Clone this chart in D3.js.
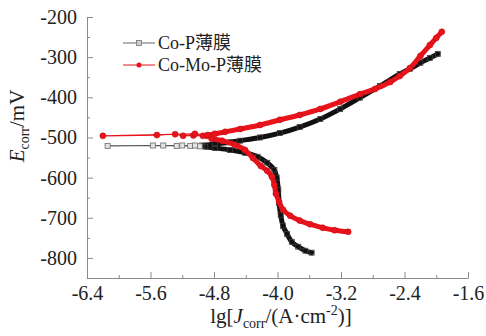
<!DOCTYPE html>
<html>
<head>
<meta charset="utf-8">
<script src="https://cdn.jsdelivr.net/npm/d3@7"></script>
<style>
  body { margin: 0; background: #fff; }
  svg { display: block; }
  .axis path, .axis line { stroke: #8a8a8a; }
</style>
</head>
<body>
<svg id="chart" width="486" height="336"></svg>
<script>
// x tick labels (lg J) and y tick labels (E, mV)
const xTicks = [-6.4, -5.6, -4.8, -4.0, -3.2, -2.4, -1.6];
const xMinor = [-6.0, -5.2, -4.4, -3.6, -2.8, -2.0];
const yTicks = [-200, -300, -400, -500, -600, -700, -800];
const yMinor = [-250, -350, -450, -550, -650, -750, -850];

const seriesNames = ["Co-P薄膜", "Co-Mo-P薄膜"];

// Co-P film: [lgJ, E], scan order cathodic end -> Ecorr -> anodic end
const coPCathodic = [
  [-3.57, -787], [-3.65, -782], [-3.74, -772], [-3.82, -760], [-3.88, -740],
  [-3.93, -720], [-3.96, -693], [-3.98, -663], [-3.99, -630], [-4.01, -600],
  [-4.04, -581], [-4.13, -563], [-4.25, -548], [-4.41, -538], [-4.60, -531],
  [-4.79, -526], [-4.91, -523]
];
const coPEcorr = [
  [-4.98, -522], [-5.10, -521], [-5.27, -521], [-5.44, -520], [-6.14, -521],
  [-5.57, -520], [-5.20, -520], [-5.04, -520]
];
const coPAnodic = [
  [-4.95, -520], [-4.79, -516], [-4.60, -512], [-4.47, -508], [-4.22, -500],
  [-3.97, -489], [-3.72, -474], [-3.46, -454], [-3.21, -429], [-2.96, -401],
  [-2.71, -372], [-2.46, -342], [-2.33, -329], [-2.20, -314], [-2.08, -302],
  [-1.98, -292]
];

// Co-Mo-P film
const coMoPCathodic = [
  [-3.11, -735], [-3.28, -731], [-3.43, -725], [-3.59, -716], [-3.72, -707],
  [-3.84, -695], [-3.93, -680], [-3.98, -660], [-4.02, -640], [-4.04, -618],
  [-4.07, -598], [-4.13, -583], [-4.21, -571], [-4.31, -551], [-4.41, -531],
  [-4.54, -518], [-4.70, -508], [-4.83, -503]
];
const coMoPEcorr = [
  [-4.89, -496], [-4.94, -496], [-5.06, -495], [-5.19, -496], [-5.29, -492],
  [-5.52, -494], [-6.20, -496], [-5.04, -491]
];
const coMoPAnodic = [
  [-4.88, -494], [-4.79, -491], [-4.66, -486], [-4.47, -479], [-4.22, -469],
  [-3.97, -456], [-3.72, -444], [-3.46, -429], [-3.21, -411], [-2.96, -392],
  [-2.77, -379], [-2.58, -362], [-2.46, -347], [-2.33, -327], [-2.20, -297],
  [-2.08, -270], [-2.00, -252], [-1.93, -237]
];

const serif = "'Liberation Serif', 'Times New Roman', serif";
const svg = d3.select("#chart");
const x = d3.scaleLinear().domain([-6.4, -1.6]).range([87, 468]);
const y = d3.scaleLinear().domain([-850, -200]).range([278, 17]);

function styleTicks(g) {
  g.selectAll("text").style("font-family", serif).style("font-size", "20px").attr("fill", "#222");
}

// axes, ticks pointing inward
svg.append("g").attr("class", "axis").attr("transform", "translate(0,278)")
  .call(d3.axisBottom(x).tickValues(xTicks).tickFormat(d => d.toFixed(1))
    .tickSizeInner(-6).tickSizeOuter(0).tickPadding(8))
  .call(styleTicks);
svg.append("g").attr("class", "axis").attr("transform", "translate(0,278)")
  .call(d3.axisBottom(x).tickValues(xMinor).tickFormat("").tickSizeInner(-3).tickSizeOuter(0))
  .select(".domain").remove();
svg.append("g").attr("class", "axis").attr("transform", "translate(87,0)")
  .call(d3.axisLeft(y).tickValues(yTicks).tickFormat(d => String(d))
    .tickSizeInner(-6).tickSizeOuter(0).tickPadding(10))
  .call(styleTicks);
svg.append("g").attr("class", "axis").attr("transform", "translate(87,0)")
  .call(d3.axisLeft(y).tickValues(yMinor).tickFormat("").tickSizeInner(-3).tickSizeOuter(0))
  .select(".domain").remove();

// axis titles
const yt = svg.append("text")
  .attr("transform", "translate(24,126) rotate(-90)")
  .attr("text-anchor", "middle")
  .style("font-family", serif).style("font-size", "21px").attr("fill", "#222");
yt.append("tspan").style("font-style", "italic").text("E");
yt.append("tspan").attr("dy", 5).style("font-size", "14px").text("corr");
yt.append("tspan").attr("dy", -5).text("/mV");

const xt = svg.append("text")
  .attr("x", 281).attr("y", 323)
  .attr("text-anchor", "middle")
  .style("font-family", serif).style("font-size", "21px").attr("fill", "#222");
xt.append("tspan").text("lg[");
xt.append("tspan").style("font-style", "italic").text("J");
xt.append("tspan").attr("dy", 5).style("font-size", "14px").text("corr");
xt.append("tspan").attr("dy", -5).text("/(A·cm");
xt.append("tspan").attr("dy", -8).style("font-size", "14px").text("-2");
xt.append("tspan").attr("dy", 8).text(")]");

const line = d3.line().x(d => x(d[0])).y(d => y(d[1]));
const band = d3.line().x(d => x(d[0])).y(d => y(d[1])).curve(d3.curveCatmullRom);

function drawSeries(cath, ecorr, anod, color, bandColor, shape) {
  const g = svg.append("g");
  const all = cath.concat(ecorr, anod);
  g.append("path").datum(all).attr("d", line)
    .attr("fill", "none").attr("stroke", color).attr("stroke-width", 1.2);
  [cath, anod].forEach(seg => {
    g.append("path").datum(seg).attr("d", band)
      .attr("fill", "none").attr("stroke", bandColor).attr("stroke-width", 5)
      .attr("stroke-linecap", "round").attr("stroke-linejoin", "round");
  });
  if (shape === "square") {
    g.selectAll("rect.branch").data(cath.concat(anod)).join("rect").attr("class", "branch")
      .attr("x", d => x(d[0]) - 2.5).attr("y", d => y(d[1]) - 2.5)
      .attr("width", 5).attr("height", 5)
      .attr("fill", "none").attr("stroke", "#3a3a3a").attr("stroke-width", 0.8);
    g.selectAll("rect.ecorr").data(ecorr).join("rect").attr("class", "ecorr")
      .attr("x", d => x(d[0]) - 2.5).attr("y", d => y(d[1]) - 2.5)
      .attr("width", 5).attr("height", 5)
      .attr("fill", "#e4e4e4").attr("stroke", "#777").attr("stroke-width", 0.9);
  } else {
    g.selectAll("circle").data(all).join("circle")
      .attr("cx", d => x(d[0])).attr("cy", d => y(d[1])).attr("r", 3)
      .attr("fill", "#e8131b").attr("stroke", "#c80f16").attr("stroke-width", 0.6);
  }
}

drawSeries(coPCathodic, coPEcorr, coPAnodic, "#555", "#111", "square");
drawSeries(coMoPCathodic, coMoPEcorr, coMoPAnodic, "#e8131b", "#e8131b", "circle");

// legend
const legend = svg.append("g");
seriesNames.forEach((name, i) => {
  const ly = 43 + i * 22;
  const red = i === 1;
  legend.append("line").attr("x1", 123).attr("x2", 155).attr("y1", ly).attr("y2", ly)
    .attr("stroke", red ? "#e8131b" : "#666").attr("stroke-width", 1);
  if (red) {
    legend.append("circle").attr("cx", 139).attr("cy", ly).attr("r", 2.5).attr("fill", "#e8131b");
  } else {
    legend.append("rect").attr("x", 136.5).attr("y", ly - 2.5).attr("width", 5).attr("height", 5)
      .attr("fill", "#ccc").attr("stroke", "#777").attr("stroke-width", 0.8);
  }
  legend.append("text").attr("x", 158).attr("y", ly + 6)
    .style("font-family", "'Liberation Serif', 'Noto Sans CJK SC', serif").style("font-size", "18px")
    .attr("fill", "#222").text(name);
});
</script>
</body>
</html>
